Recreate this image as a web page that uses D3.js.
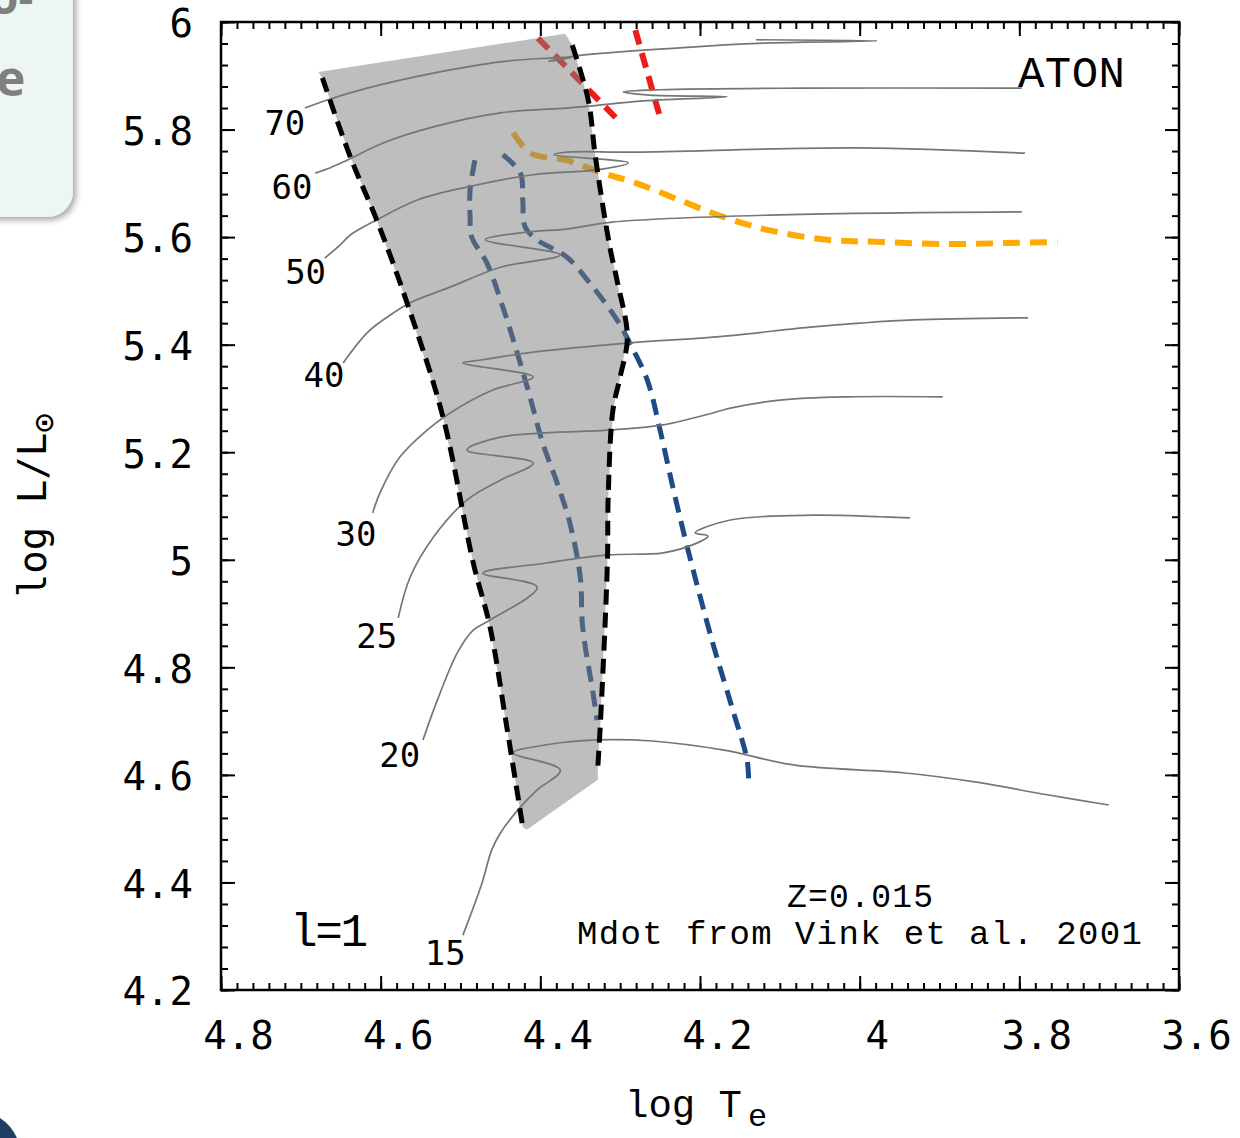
<!DOCTYPE html>
<html lang="en">
<head>
<meta charset="UTF-8">
<title>ATON tracks, Z=0.015</title>
<script src="https://d3js.org/d3.v7.min.js"></script>
<style>
  body { margin: 0; background: #fff; }
  svg { display: block; }
  .tick text { font-family: "DejaVu Sans Mono", monospace; font-size: 39px; fill: #000; }
  .mono { font-family: "Liberation Mono", "DejaVu Sans Mono", monospace; fill: #000; }
</style>
</head>
<body>
<script>
// ticks
const xTicks = [4.8, 4.6, 4.4, 4.2, 4.0, 3.8, 3.6];
const yTicks = [4.2, 4.4, 4.6, 4.8, 5.0, 5.2, 5.4, 5.6, 5.8, 6.0];

// evolutionary tracks, [log Te, log L]
const track70 = [[4.695,5.840],[4.667,5.855],[4.617,5.877],[4.534,5.905],[4.450,5.926],[4.388,5.933],[4.359,5.935],[4.390,5.927],[4.355,5.937],[4.226,5.952],[4.114,5.961],[3.978,5.965],[4.130,5.967]];
const track60 = [[4.682,5.719],[4.663,5.729],[4.642,5.743],[4.597,5.775],[4.534,5.805],[4.450,5.831],[4.367,5.840],[4.335,5.844],[4.275,5.853],[4.166,5.861],[4.263,5.864],[4.296,5.870],[4.250,5.874],[4.075,5.877],[3.797,5.877]];
const track50 = [[4.670,5.561],[4.651,5.585],[4.638,5.604],[4.605,5.632],[4.554,5.669],[4.492,5.693],[4.409,5.716],[4.330,5.725],[4.290,5.738],[4.383,5.753],[4.367,5.758],[4.281,5.758],[4.000,5.766],[3.793,5.756]];
const track40 = [[4.647,5.366],[4.617,5.422],[4.592,5.451],[4.563,5.478],[4.513,5.507],[4.450,5.544],[4.375,5.567],[4.469,5.595],[4.413,5.610],[4.367,5.615],[4.310,5.628],[4.112,5.641],[3.797,5.647]];
const track30 = [[4.610,5.087],[4.601,5.124],[4.576,5.191],[4.542,5.241],[4.513,5.273],[4.459,5.316],[4.409,5.340],[4.497,5.366],[4.472,5.372],[4.409,5.386],[4.291,5.403],[4.184,5.414],[4.058,5.433],[4.000,5.440],[3.933,5.446],[3.789,5.450]];
const track25 = [[4.578,4.892],[4.563,4.968],[4.534,5.042],[4.492,5.111],[4.450,5.148],[4.409,5.180],[4.492,5.204],[4.450,5.228],[4.316,5.241],[4.246,5.251],[4.184,5.273],[4.162,5.282],[4.100,5.297],[4.016,5.303],[3.896,5.303]];
const track20 = [[4.547,4.665],[4.529,4.739],[4.504,4.827],[4.484,4.869],[4.463,4.888],[4.404,4.949],[4.472,4.975],[4.392,4.994],[4.316,5.009],[4.246,5.013],[4.204,5.031],[4.190,5.044],[4.206,5.050],[4.162,5.074],[4.058,5.083],[3.975,5.080],[3.937,5.078]];
const track15 = [[4.497,4.302],[4.473,4.399],[4.461,4.460],[4.450,4.492],[4.425,4.540],[4.404,4.572],[4.375,4.609],[4.434,4.641],[4.392,4.656],[4.329,4.665],[4.260,4.663],[4.170,4.646],[4.081,4.618],[3.946,4.604],[3.856,4.587],[3.765,4.563],[3.688,4.544]];
const tracks = [track70, track60, track50, track40, track30, track25, track20, track15];
const massNames = ["70", "60", "50", "40", "30", "25", "20", "15"];
const massLabelAt = [[4.720,5.790],[4.711,5.671],[4.694,5.513],[4.671,5.321],[4.631,5.026],[4.605,4.836],[4.576,4.615],[4.519,4.247]];

// instability strip borders (black dashed) and shaded band
const leftEdge = [[4.673,5.896],[4.638,5.749],[4.605,5.632],[4.567,5.478],[4.522,5.266],[4.484,4.994],[4.463,4.875],[4.442,4.689],[4.422,4.503]];
const rightEdge = [[4.360,5.957],[4.340,5.855],[4.331,5.749],[4.313,5.582],[4.304,5.520],[4.291,5.414],[4.300,5.340],[4.309,5.279],[4.315,5.117],[4.316,4.994],[4.325,4.689],[4.328,4.615]];
const bandTop = [[4.678,5.907],[4.369,5.978]];
const bandBottom = [[4.328,4.591],[4.417,4.498]];

// blue dashed lines
const blueA = [[4.482,5.743],[4.488,5.688],[4.488,5.637],[4.486,5.600],[4.467,5.552],[4.447,5.470],[4.429,5.385],[4.413,5.303],[4.397,5.217],[4.379,5.143],[4.363,5.068],[4.350,4.968],[4.347,4.875],[4.334,4.752],[4.329,4.702]];
const blueB = [[4.447,5.753],[4.425,5.719],[4.422,5.669],[4.419,5.619],[4.404,5.595],[4.367,5.563],[4.334,5.507],[4.304,5.446],[4.288,5.403],[4.266,5.334],[4.250,5.241],[4.234,5.135],[4.216,5.024],[4.184,4.845],[4.159,4.721],[4.141,4.628],[4.139,4.587]];
// orange dashed line
const orangeLine = [[4.434,5.794],[4.412,5.756],[4.367,5.743],[4.322,5.719],[4.281,5.701],[4.226,5.669],[4.170,5.637],[4.114,5.613],[4.041,5.595],[3.973,5.591],[3.888,5.587],[3.815,5.589],[3.752,5.591]];
// red dashed lines
const redA = [[4.403,5.970],[4.360,5.905],[4.299,5.812]];
const redB = [[4.281,5.985],[4.265,5.901],[4.250,5.823]];

const W = 1240, H = 1138;
const X0 = 221, X1 = 1179, Y0 = 22, Y1 = 990;

const x = d3.scaleLinear().domain([4.8, 3.6]).range([X0, X1]);
const y = d3.scaleLinear().domain([4.2, 6.0]).range([Y1, Y0]);

const svg = d3.select("body").append("svg")
  .attr("width", W)
  .attr("height", H);

// bits of the slide around the figure
const defs = svg.append("defs");
const shadow = defs.append("filter").attr("id", "shadow")
  .attr("x", "-20%").attr("y", "-20%").attr("width", "150%").attr("height", "150%");
shadow.append("feDropShadow").attr("dx", 3).attr("dy", 3).attr("stdDeviation", 3)
  .attr("flood-color", "#000").attr("flood-opacity", 0.35);

svg.append("rect")
  .attr("x", -40).attr("y", -40)
  .attr("width", 113).attr("height", 257)
  .attr("rx", 26)
  .attr("fill", "#eef6f2")
  .attr("filter", "url(#shadow)");
svg.append("text").attr("x", -10).attr("y", 14)
  .attr("font-family", "Open Sans").attr("font-weight", "bold").attr("font-size", 46)
  .attr("fill", "#7f7f7f").text("o-");
svg.append("text").attr("x", -4).attr("y", 96)
  .attr("font-family", "Open Sans").attr("font-weight", "bold").attr("font-size", 50)
  .attr("fill", "#7f7f7f").text("e");
svg.append("path")
  .attr("d", "M0,1118 Q11,1125 17,1138 L0,1138 Z")
  .attr("fill", "#1f3d63");

defs.append("clipPath").attr("id", "plotclip")
  .append("rect").attr("x", X0).attr("y", Y0).attr("width", X1 - X0).attr("height", Y1 - Y0);

const plot = svg.append("g").attr("clip-path", "url(#plotclip)");

const smooth = d3.line()
  .x(d => x(d[0]))
  .y(d => y(d[1]))
  .curve(d3.curveCatmullRom.alpha(0.5));
const straight = d3.line()
  .x(d => x(d[0]))
  .y(d => y(d[1]));

// coloured dashed lines (under the grey band)
plot.append("path").attr("d", smooth(orangeLine))
  .attr("fill", "none").attr("stroke", "#ffaa00").attr("stroke-width", 6)
  .attr("stroke-dasharray", "17,10");
[blueA, blueB].forEach(line => {
  plot.append("path").attr("d", smooth(line))
    .attr("fill", "none").attr("stroke", "#1e4a85").attr("stroke-width", 5)
    .attr("stroke-dasharray", "16,9");
});
[redA, redB].forEach(line => {
  plot.append("path").attr("d", smooth(line))
    .attr("fill", "none").attr("stroke", "#ee1c1c").attr("stroke-width", 6)
    .attr("stroke-dasharray", "15,9");
});

// grey band
const band = bandTop.concat(rightEdge, bandBottom, leftEdge.slice().reverse());
plot.append("path")
  .attr("d", straight(band) + "Z")
  .attr("fill", "#7d7d7d")
  .attr("fill-opacity", 0.5);

// tracks
plot.selectAll("path.track")
  .data(tracks)
  .enter()
  .append("path")
  .attr("class", "track")
  .attr("d", d => smooth(d))
  .attr("fill", "none")
  .attr("stroke", "#767676")
  .attr("stroke-width", 1.7);

// black dashed edges
[leftEdge, rightEdge].forEach(line => {
  plot.append("path").attr("d", smooth(line))
    .attr("fill", "none").attr("stroke", "#000").attr("stroke-width", 5)
    .attr("stroke-dasharray", "15,8");
});

// mass labels
svg.selectAll("text.mass")
  .data(massNames)
  .enter()
  .append("text")
  .attr("class", "mass")
  .attr("x", (d, i) => x(massLabelAt[i][0]))
  .attr("y", (d, i) => y(massLabelAt[i][1]))
  .attr("text-anchor", "middle")
  .attr("font-family", "DejaVu Sans Mono")
  .attr("font-size", 34)
  .text(d => d);

// axes: major ticks inside, minor ticks from the same scales
const major = 14, minor = 7;
const xMinor = x.ticks(60);
const yMinor = d3.range(0, 46).map(i => 4.2 + i * 0.04);

const gx = svg.append("g").attr("transform", `translate(0,${Y1})`)
  .call(d3.axisBottom(x).tickValues(xTicks).tickSize(-major).tickSizeOuter(0)
    .tickPadding(31).tickFormat(d => String(+d.toFixed(1))));
gx.selectAll("text").attr("dx", 17);

svg.append("g").attr("transform", `translate(0,${Y0})`)
  .call(d3.axisTop(x).tickValues(xTicks).tickSize(-major).tickSizeOuter(0).tickFormat(""));

const gy = svg.append("g").attr("transform", `translate(${X0},0)`)
  .call(d3.axisLeft(y).tickValues(yTicks).tickSize(-major).tickSizeOuter(0)
    .tickPadding(28).tickFormat(d => String(+d.toFixed(1))));
gy.selectAll("text").attr("dy", "0.38em");

svg.append("g").attr("transform", `translate(${X1},0)`)
  .call(d3.axisRight(y).tickValues(yTicks).tickSize(-major).tickSizeOuter(0).tickFormat(""));

svg.append("g").attr("transform", `translate(0,${Y1})`)
  .call(d3.axisBottom(x).tickValues(xMinor).tickSize(-minor).tickSizeOuter(0).tickFormat(""));
svg.append("g").attr("transform", `translate(0,${Y0})`)
  .call(d3.axisTop(x).tickValues(xMinor).tickSize(-minor).tickSizeOuter(0).tickFormat(""));
svg.append("g").attr("transform", `translate(${X0},0)`)
  .call(d3.axisLeft(y).tickValues(yMinor).tickSize(-minor).tickSizeOuter(0).tickFormat(""));
svg.append("g").attr("transform", `translate(${X1},0)`)
  .call(d3.axisRight(y).tickValues(yMinor).tickSize(-minor).tickSizeOuter(0).tickFormat(""));

svg.selectAll(".domain").remove();
svg.selectAll(".tick line").attr("stroke", "#000").attr("stroke-width", 2);

svg.append("rect")
  .attr("x", X0).attr("y", Y0)
  .attr("width", X1 - X0).attr("height", Y1 - Y0)
  .attr("fill", "none").attr("stroke", "#000").attr("stroke-width", 2.5);

// axis titles
svg.append("text").attr("class", "mono")
  .attr("x", 625).attr("y", 1117)
  .attr("font-size", 39)
  .text("log T");
svg.append("text").attr("class", "mono")
  .attr("x", 748).attr("y", 1126)
  .attr("font-size", 32)
  .text("e");

const yt = svg.append("text")
  .attr("transform", "translate(46,505) rotate(-90)")
  .attr("text-anchor", "middle")
  .attr("font-family", "DejaVu Sans Mono")
  .attr("font-size", 39);
yt.append("tspan").text("log L/L");
yt.append("tspan").attr("dy", 9).attr("font-size", 33).text("\u2299");

// annotations
svg.append("text").attr("class", "mono")
  .attr("x", 1018).attr("y", 87)
  .attr("font-size", 44)
  .attr("textLength", 107)
  .text("ATON");
svg.append("text").attr("class", "mono")
  .attr("x", 787).attr("y", 907)
  .attr("font-size", 33)
  .attr("textLength", 146)
  .text("Z=0.015");
svg.append("text").attr("class", "mono")
  .attr("x", 577).attr("y", 944)
  .attr("font-size", 34)
  .attr("textLength", 565)
  .text("Mdot from Vink et al. 2001");
svg.append("text").attr("class", "mono")
  .attr("x", 290).attr("y", 946)
  .attr("font-size", 46)
  .attr("textLength", 78)
  .text("l=1");
</script>
</body>
</html>
